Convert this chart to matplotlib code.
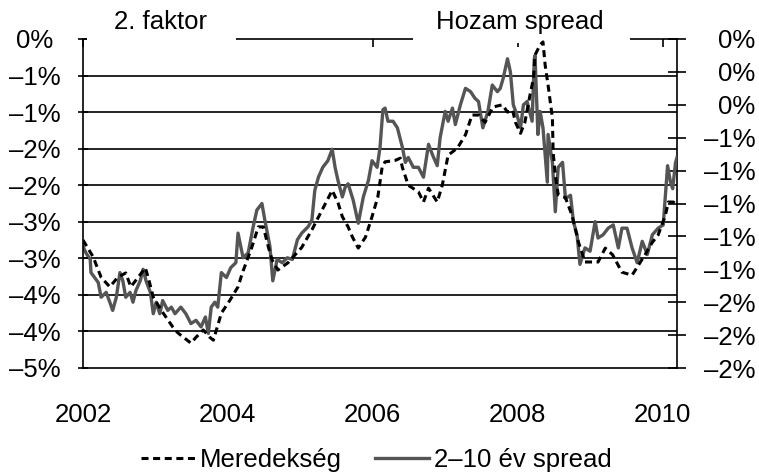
"""2. faktor vs. hozam spread"""

import math
import numpy as np
import matplotlib
matplotlib.use("Agg")
import matplotlib.pyplot as plt
from matplotlib.patches import Rectangle
from matplotlib.ticker import FuncFormatter

plt.rcParams['font.family'] = ['Liberation Sans', 'DejaVu Sans']
plt.rcParams['font.size'] = 18.5

# Meredekség (left axis, %)
mer_t = [2002.00, 2002.14, 2002.25, 2002.37, 2002.48, 2002.59, 2002.66, 2002.73, 2002.86, 2002.90,
         2002.97, 2003.08, 2003.24, 2003.31, 2003.49, 2003.56, 2003.66, 2003.75, 2003.80, 2003.91,
         2004.03, 2004.14, 2004.20, 2004.33, 2004.42, 2004.49, 2004.56, 2004.61, 2004.69, 2004.83,
         2005.02, 2005.16, 2005.30, 2005.44, 2005.52, 2005.58, 2005.66, 2005.72, 2005.80, 2005.90,
         2005.99, 2006.07, 2006.13, 2006.17, 2006.31, 2006.38, 2006.41, 2006.49, 2006.63, 2006.70,
         2006.77, 2006.89, 2006.96, 2007.04, 2007.17, 2007.28, 2007.37, 2007.46, 2007.55, 2007.66,
         2007.79, 2007.86, 2007.93, 2007.97, 2008.04, 2008.10, 2008.17, 2008.22, 2008.24, 2008.31,
         2008.35, 2008.38, 2008.42, 2008.48, 2008.49, 2008.52, 2008.56, 2008.66, 2008.75, 2008.84,
         2008.93, 2009.03, 2009.11, 2009.21, 2009.31, 2009.44, 2009.58, 2009.67, 2009.76, 2009.86,
         2009.94, 2010.04, 2010.08, 2010.15, 2010.20]
mer_v = [-2.75, -2.98, -3.26, -3.39, -3.26, -3.20, -3.39, -3.30, -3.13, -3.26,
         -3.53, -3.71, -3.94, -4.02, -4.16, -4.08, -3.98, -4.08, -4.12, -3.75,
         -3.57, -3.39, -3.20, -2.85, -2.57, -2.57, -2.85, -3.02, -3.16, -3.06,
         -2.85, -2.61, -2.34, -2.07, -2.24, -2.43, -2.57, -2.71, -2.86, -2.71,
         -2.43, -2.16, -1.75, -1.68, -1.66, -1.63, -1.76, -2.00, -2.09, -2.23,
         -2.04, -2.23, -2.00, -1.59, -1.49, -1.31, -1.04, -1.04, -1.14, -0.93,
         -0.90, -1.00, -0.97, -1.14, -1.29, -1.14, -0.77, -0.53, -0.22, -0.08,
         -0.04, -0.36, -0.63, -1.08, -1.55, -1.86, -2.13, -2.17, -2.41, -2.78,
         -3.05, -3.05, -3.05, -2.86, -2.95, -3.19, -3.23, -3.09, -2.95, -2.78,
         -2.68, -2.41, -2.23, -2.23, -2.27]

# 2-10 year spread (right axis, %)
spr_t = [2002.00, 2002.04, 2002.10, 2002.11, 2002.21, 2002.25, 2002.32, 2002.37, 2002.41, 2002.46,
         2002.51, 2002.55, 2002.59, 2002.65, 2002.69, 2002.73, 2002.79, 2002.83, 2002.87, 2002.93,
         2002.97, 2003.01, 2003.06, 2003.10, 2003.17, 2003.22, 2003.27, 2003.35, 2003.42, 2003.49,
         2003.56, 2003.63, 2003.69, 2003.73, 2003.77, 2003.82, 2003.86, 2003.91, 2003.98, 2004.04,
         2004.11, 2004.14, 2004.21, 2004.28, 2004.35, 2004.40, 2004.47, 2004.51, 2004.58, 2004.62,
         2004.68, 2004.75, 2004.82, 2004.89, 2004.96, 2005.02, 2005.11, 2005.16, 2005.20, 2005.25,
         2005.31, 2005.38, 2005.44, 2005.48, 2005.52, 2005.58, 2005.62, 2005.66, 2005.73, 2005.80,
         2005.87, 2005.94, 2005.99, 2006.06, 2006.10, 2006.14, 2006.17, 2006.21, 2006.28, 2006.34,
         2006.41, 2006.45, 2006.49, 2006.56, 2006.63, 2006.70, 2006.77, 2006.83, 2006.89, 2006.93,
         2007.00, 2007.04, 2007.10, 2007.14, 2007.21, 2007.28, 2007.35, 2007.41, 2007.46, 2007.52,
         2007.59, 2007.65, 2007.72, 2007.76, 2007.80, 2007.86, 2007.90, 2007.94, 2007.99, 2008.04,
         2008.08, 2008.13, 2008.20, 2008.23, 2008.24, 2008.28, 2008.31, 2008.35, 2008.41, 2008.42,
         2008.48, 2008.52, 2008.56, 2008.62, 2008.66, 2008.73, 2008.77, 2008.82, 2008.86, 2008.93,
         2009.00, 2009.07, 2009.11, 2009.18, 2009.25, 2009.32, 2009.39, 2009.44, 2009.51, 2009.58,
         2009.65, 2009.72, 2009.79, 2009.86, 2009.94, 2010.01, 2010.07, 2010.11, 2010.14, 2010.18,
         2010.20]
spr_v = [-1.26, -1.30, -1.34, -1.42, -1.48, -1.57, -1.54, -1.60, -1.65, -1.57,
         -1.42, -1.47, -1.57, -1.54, -1.60, -1.53, -1.47, -1.40, -1.47, -1.54,
         -1.67, -1.60, -1.67, -1.59, -1.65, -1.63, -1.67, -1.63, -1.67, -1.73,
         -1.71, -1.75, -1.69, -1.79, -1.63, -1.60, -1.63, -1.42, -1.45, -1.39,
         -1.36, -1.18, -1.33, -1.30, -1.14, -1.04, -1.00, -1.10, -1.26, -1.47,
         -1.34, -1.36, -1.33, -1.34, -1.22, -1.18, -1.14, -1.10, -0.92, -0.84,
         -0.78, -0.74, -0.67, -0.78, -0.86, -0.96, -0.90, -0.88, -0.98, -1.12,
         -0.96, -0.86, -0.74, -0.78, -0.66, -0.43, -0.42, -0.50, -0.50, -0.54,
         -0.66, -0.75, -0.72, -0.78, -0.78, -0.84, -0.64, -0.71, -0.77, -0.60,
         -0.44, -0.50, -0.42, -0.52, -0.40, -0.30, -0.32, -0.36, -0.38, -0.54,
         -0.44, -0.28, -0.32, -0.30, -0.24, -0.12, -0.20, -0.40, -0.46, -0.54,
         -0.40, -0.38, -0.50, -0.12, -0.10, -0.58, -0.44, -0.54, -0.87, -0.58,
         -0.75, -1.05, -0.78, -0.75, -0.97, -0.95, -1.11, -1.19, -1.37, -1.27,
         -1.29, -1.11, -1.21, -1.19, -1.15, -1.13, -1.27, -1.15, -1.15, -1.27,
         -1.36, -1.23, -1.31, -1.19, -1.15, -1.13, -0.77, -0.87, -0.91, -0.75,
         -0.72]

years = [2002, 2004, 2006, 2008, 2010]
left_ticks = np.linspace(0, -4.5, 10)
right_ticks = np.linspace(0, -2.0, 11)


def pct(v, pos):
    # excel style rounding to whole percent (half away from zero)
    r = int(math.floor(abs(v) + 0.5 + 1e-9))
    return "\u2013%d%%" % r if (v < 0 and r > 0) else "%d%%" % r


W, H = 759, 475
fig = plt.figure(figsize=(W / 100, H / 100), dpi=100)
ax = fig.add_axes([83 / W, 1 - 368 / H, 594 / W, 329 / H])
ax2 = ax.twinx()
ax.set_zorder(ax2.get_zorder() + 1)
ax.patch.set_visible(False)

# gridlines (at the left ticks), drawn on the lower axes so lines sit on top
for g in left_ticks[1:-1]:
    ax2.axhline(g * 2.0 / 4.5, color='black', lw=1.2, zorder=1)

ax2.plot(spr_t, spr_v, color='#555555', lw=2.4, zorder=3, label='2\u201310 év spread')
ax.plot(mer_t, mer_v, color='black', lw=2.2, ls=(0, (2.3, 1.5)), zorder=3,
        label='Meredekség')

ax.set_xlim(2002, 2010.2)
ax.set_ylim(-4.5, 0)
ax2.set_ylim(-2.0, 0)

ax.set_xticks(years)
ax.set_xticklabels([str(y) for y in years])
ax.tick_params(axis='x', top=True, bottom=False, direction='in', length=5.8,
               width=1.2, pad=25)

ax.set_yticks(left_ticks)
ax.yaxis.set_major_formatter(FuncFormatter(pct))
ax.tick_params(axis='y', left=True, right=False, direction='inout', length=7.2,
               width=1.2, pad=31)
for lbl in ax.get_yticklabels():
    lbl.set_horizontalalignment('center')

ax2.set_yticks(right_ticks)
ax2.yaxis.set_major_formatter(FuncFormatter(pct))
ax2.tick_params(axis='y', direction='inout', length=13, width=1.2, pad=50)
for lbl in ax2.get_yticklabels():
    lbl.set_horizontalalignment('right')

for s in ['left', 'bottom', 'top']:
    ax.spines[s].set_linewidth(1.2)
ax.spines['right'].set_visible(False)
for s in ['left', 'top', 'bottom']:
    ax2.spines[s].set_visible(False)
ax2.spines['right'].set_linewidth(1.2)

# white boxes behind the two axis titles, they cut the top frame
for x0, x1, yb in [(87, 236, 49), (413, 630, 43)]:
    ax.add_patch(Rectangle((x0 / W, 1 - yb / H), (x1 - x0) / W, yb / H,
                           transform=fig.transFigure, facecolor='white',
                           edgecolor='none', clip_on=False, zorder=2.6))
ax.text(161 / W, 1 - 22 / H, '2. faktor', transform=fig.transFigure,
        ha='center', va='center', zorder=4)
ax.text(520 / W, 1 - 22 / H, 'Hozam spread', transform=fig.transFigure,
        ha='center', va='center', zorder=4)

h1, l1 = ax.get_legend_handles_labels()
h2, l2 = ax2.get_legend_handles_labels()
fig.legend(h1 + h2, l1 + l2, loc='center', bbox_to_anchor=(0.496, 0.032), ncol=2,
           frameon=False, handlelength=2.1, handletextpad=0.2, columnspacing=1.3)

fig.savefig('out.png', dpi=100)
